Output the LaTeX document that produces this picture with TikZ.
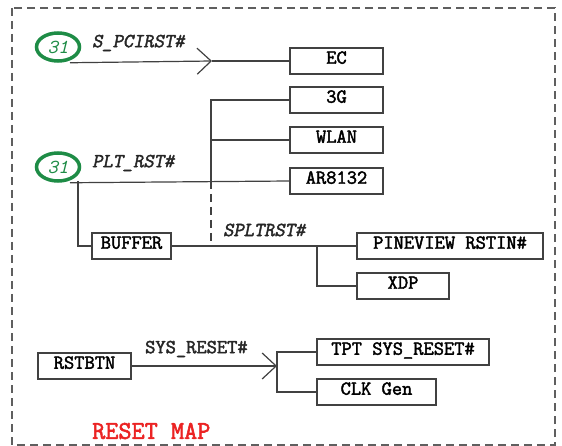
\documentclass[tikz,border=0pt]{standalone}
\usepackage{fontspec}
\newfontfamily\courbf{Latin Modern Mono}[FakeBold=2.2]
\newfontfamily\courbfit{Latin Modern Mono}[FakeBold=2.2,FakeSlant=0.2]
\usetikzlibrary{arrows.meta,shapes.geometric}
\definecolor{linegray}{RGB}{65,65,65}
\definecolor{bordergray}{RGB}{95,95,95}
\definecolor{netgreen}{RGB}{30,140,70}
\definecolor{mapred}{RGB}{235,35,35}

\begin{document}
\begin{tikzpicture}[x=1pt,y=-1pt,
  font=\courbf\fontsize{19.9}{22}\selectfont,
  wire/.style={draw=linegray,line width=1.2pt},
  barb/.style={-{Straight Barb[length=14pt,width=26pt]}},
  blk/.style={draw=linegray,line width=1.4pt,inner sep=0pt,minimum height=26pt,
    text height=11.5pt,text depth=6pt},
  sheet/.style={ellipse,draw=netgreen,line width=3.5pt,inner sep=0pt,
    minimum width=43pt,minimum height=28pt,text=netgreen,
    font=\ttfamily\itshape\fontsize{19.9}{22}\selectfont},
  sig/.style={anchor=west,inner sep=0pt,text=black!85},
  slant/.style={font=\courbfit\fontsize{19.9}{22}\selectfont},
  maptitle/.style={anchor=west,inner sep=0pt,text=mapred,
    font=\courbf\fontsize{25.5}{28}\selectfont}]
\useasboundingbox (0,0) rectangle (562,446);
\draw[bordergray,line width=1.2pt,dash pattern=on 8pt off 5pt] (12,8) rectangle (555,445);

\node[sheet] (pci) at (58,47) {31};
\node[sheet] (plt) at (58,167) {31};

\node[blk,minimum width=93pt] (ec) at (336.5,61) {EC};
\node[blk,minimum width=93pt] (g3) at (336.5,100) {3G};
\node[blk,minimum width=93pt] (wlan) at (336.5,140) {WLAN};
\node[blk,minimum width=93pt] (ar) at (336.5,181) {AR8132};
\node[blk,minimum width=79pt] (buffer) at (131.5,246) {BUFFER};
\node[blk,minimum width=186pt] (pineview) at (450,246) {PINEVIEW RSTIN\#};
\node[blk,minimum width=92pt] (xdp) at (403,286) {XDP};
\node[blk,minimum width=93pt] (rstbtn) at (84.5,366) {RSTBTN};
\node[blk,minimum width=172pt] (tpt) at (403,352) {TPT SYS\_RESET\#};
\node[blk,minimum width=119pt] (clk) at (376.5,392) {CLK Gen};

\node[sig,slant] (pcilbl) at (92,43) {S\_PCIRST\#};
\node[sig,slant] (pltlbl) at (92,163) {PLT\_RST\#};
\node[sig,slant] (spltlbl) at (223,230) {SPLTRST\#};
\node[sig] (syslbl) at (145,349) {SYS\_RESET\#};
\node[maptitle] (title) at (92,431) {RESET MAP};

\coordinate (pcitip) at (212,61);
\coordinate (pltsplit) at (211,181);
\coordinate (bufsplit) at (78,181);
\coordinate (xdpsplit) at (317,246);
\coordinate (systip) at (277,366);

\draw[wire,barb] ([xshift=12pt]pci.south) -- (pcitip);
\draw[wire] (pcitip) -- (ec.west);

\draw[wire] ([xshift=12pt]plt.south) -- (ar.west);
\draw[wire] (g3.west) -| (pltsplit);
\draw[wire] (wlan.west) -- (wlan.west -| pltsplit);
\draw[wire,dash pattern=on 8pt off 5pt] (pltsplit) -- (pltsplit |- buffer.east);
\draw[wire] (bufsplit) |- (buffer.west);
\draw[wire] (buffer.east) -- (pineview.west);
\draw[wire] (xdpsplit) |- (xdp.west);

\draw[wire,barb] (rstbtn.east) -- (systip);
\draw[wire] (tpt.west) -| (systip);
\draw[wire] (clk.west) -| (systip);
\end{tikzpicture}
\end{document}
